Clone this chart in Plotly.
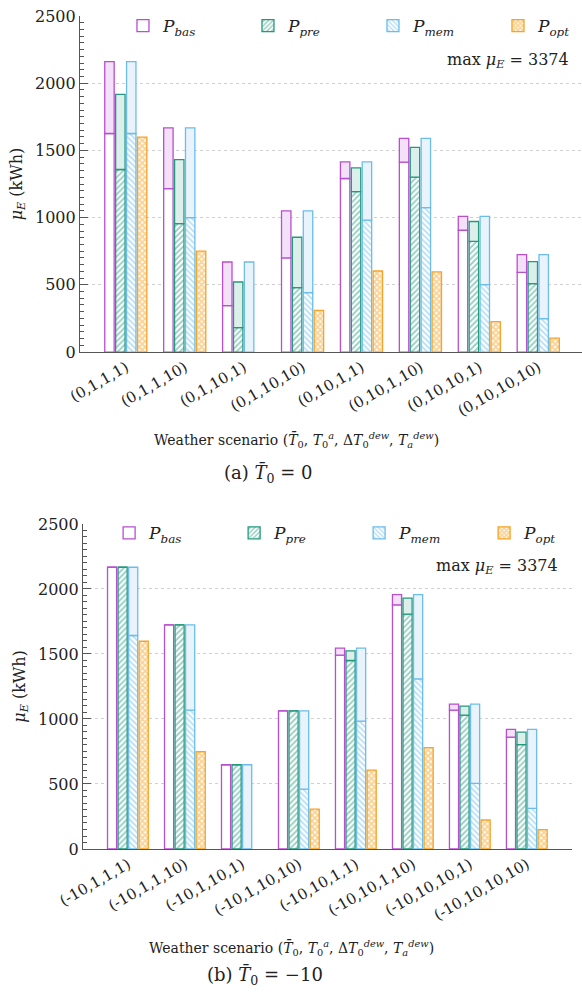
import plotly.graph_objects as go

# Weather scenarios (T0_bar, T0^a, dT0^dew, Ta^dew)
categories_a = ["(0,1,1,1)", "(0,1,1,10)", "(0,1,10,1)", "(0,1,10,10)",
                "(0,10,1,1)", "(0,10,1,10)", "(0,10,10,1)", "(0,10,10,10)"]
categories_b = ["(-10,1,1,1)", "(-10,1,1,10)", "(-10,1,10,1)", "(-10,1,10,10)",
                "(-10,10,1,1)", "(-10,10,1,10)", "(-10,10,10,1)", "(-10,10,10,10)"]

# Panel (a): expected energy mu_E (kWh); lo = lower bound, hi = upper bound
bas_lo_a = [1626, 1216, 345, 700, 1291, 1413, 906, 593]
bas_hi_a = [2160, 1668, 670, 1050, 1415, 1589, 1010, 725]
pre_lo_a = [1358, 956, 181, 479, 1194, 1301, 824, 509]
pre_hi_a = [1917, 1432, 521, 854, 1370, 1522, 971, 673]
mem_lo_a = [1626, 1000, 0, 442, 981, 1075, 501, 248]
mem_hi_a = [2160, 1668, 670, 1050, 1415, 1589, 1010, 725]
opt_a = [1599, 750, 0, 310, 603, 596, 226, 104]

# Panel (b)
bas_lo_b = [2167, 1724, 648, 1063, 1491, 1878, 1068, 861]
bas_hi_b = [2167, 1724, 648, 1063, 1545, 1957, 1114, 920]
pre_lo_b = [2167, 1724, 648, 1063, 1450, 1806, 1030, 802]
pre_hi_b = [2167, 1724, 648, 1063, 1524, 1929, 1099, 899]
mem_lo_b = [1642, 1068, 0, 461, 984, 1309, 505, 313]
mem_hi_b = [2167, 1724, 648, 1063, 1545, 1957, 1114, 920]
opt_b = [1598, 748, 0, 307, 607, 779, 223, 149]

max_mu = 3374

FONT = "DejaVu Serif"
BAR_W = 0.16
STEP = 0.185
OFF0 = -0.36
SERIES = ["bas", "pre", "mem", "opt"]

styles = {
    "bas": dict(color="#b84fcf", light="#f4e0f8", pattern=None),
    "pre": dict(color="#25997c", light="#dcefea",
                pattern=dict(shape="/", fgcolor="#25997c", size=4, solidity=0.45)),
    "mem": dict(color="#6cbdec", light="#e9f3fc",
                pattern=dict(shape="\\", fgcolor="#6cbdec", size=4, solidity=0.45)),
    "opt": dict(color="#f6a428", light=None,
                pattern=dict(shape="x", fgcolor="#f6a428", size=4, solidity=0.7)),
}
labels = {
    "bas": "<i>P</i><sub><i>bas</i></sub>",
    "pre": "<i>P</i><sub><i>pre</i></sub>",
    "mem": "<i>P</i><sub><i>mem</i></sub>",
    "opt": "<i>P</i><sub><i>opt</i></sub>",
}

fig = go.Figure()


def add_panel(cats, data, xa, ya, legend_ids):
    for i, key in enumerate(SERIES):
        st = styles[key]
        lo, hi = data[key]
        # no outline on empty bars so nothing shows at zero
        lw = [1.3 if v > 0 else 0 for v in lo] if hi is None else 1.3
        marker = dict(color="white", line=dict(color=st["color"], width=lw))
        if st["pattern"] is not None:
            marker["pattern"] = dict(st["pattern"], fillmode="overlay")
        fig.add_trace(go.Bar(
            x=cats, y=lo, offset=OFF0 + i * STEP, width=BAR_W,
            marker=marker, name=labels[key], xaxis=xa, yaxis=ya,
            legend=legend_ids[i], showlegend=True, hoverinfo="skip"))
        if hi is not None:
            fig.add_trace(go.Bar(
                x=cats, y=[h - l for h, l in zip(hi, lo)], base=lo,
                offset=OFF0 + i * STEP, width=BAR_W,
                marker=dict(color=st["light"], line=dict(color=st["color"], width=1.3)),
                xaxis=xa, yaxis=ya, showlegend=False, hoverinfo="skip"))


legends_a = ["legend", "legend2", "legend3", "legend4"]
legends_b = ["legend5", "legend6", "legend7", "legend8"]

add_panel(categories_a, {"bas": (bas_lo_a, bas_hi_a), "pre": (pre_lo_a, pre_hi_a),
                         "mem": (mem_lo_a, mem_hi_a), "opt": (opt_a, None)},
          "x", "y", legends_a)
add_panel(categories_b, {"bas": (bas_lo_b, bas_hi_b), "pre": (pre_lo_b, pre_hi_b),
                         "mem": (mem_lo_b, mem_hi_b), "opt": (opt_b, None)},
          "x2", "y2", legends_b)

yaxis_common = dict(
    range=[0, 2500], dtick=500, showline=True, linecolor="#555", linewidth=1.2,
    ticks="inside", ticklen=8, tickcolor="#555", tickwidth=1,
    minor=dict(dtick=50, ticks="inside", ticklen=4, tickcolor="#555", showgrid=False),
    showgrid=True, gridcolor="#d0d0d0", griddash="dot", gridwidth=1,
    zeroline=False, tickfont=dict(family=FONT, size=16, color="#222"),
    title=dict(text="<i>μ</i><sub><i>E</i></sub> (kWh)",
               font=dict(family=FONT, size=16, color="#222"), standoff=8),
)
xaxis_common = dict(
    type="category", showline=True, linecolor="#555", linewidth=1.2,
    ticks="", showgrid=False, zeroline=False, tickangle=-30,
    tickfont=dict(family=FONT, size=15, color="#222"),
)

layout = dict(
    width=582, height=992, barmode="overlay",
    margin=dict(l=80, r=0, t=16, b=143),
    paper_bgcolor="white", plot_bgcolor="white",
    font=dict(family=FONT, color="#222"),
    xaxis=dict(xaxis_common, domain=[0, 1], range=[-0.78, 7.74], anchor="y"),
    yaxis=dict(yaxis_common, domain=[0.5966, 1.0], anchor="x"),
    xaxis2=dict(xaxis_common, domain=[0.006, 0.98], range=[-0.79, 7.79], anchor="y2"),
    yaxis2=dict(yaxis_common, domain=[0.0, 0.3902], anchor="x2"),
)

# one legend box per entry so the four entries sit on a single row
legend_x_a = [0.0856, 0.3346, 0.5836, 0.8326]
legend_x_b = [0.058, 0.307, 0.556, 0.805]
for ids, xs, yc in ((legends_a, legend_x_a, 0.988), (legends_b, legend_x_b, 0.379)):
    for lid, lx in zip(ids, xs):
        layout[lid] = dict(orientation="h", x=lx, y=yc, xanchor="left", yanchor="middle",
                           bgcolor="rgba(0,0,0,0)", borderwidth=0,
                           font=dict(family=FONT, size=17, color="#222"))
fig.update_layout(**layout)

xtitle = ("Weather scenario (<i>T̄</i><sub>0</sub>, <i>T</i><sub>0</sub><sup><i>a</i></sup>, "
          "Δ<i>T</i><sub>0</sub><sup><i>dew</i></sup>, <i>T</i><sub><i>a</i></sub><sup><i>dew</i></sup>)")
max_text = f"max <i>μ</i><sub><i>E</i></sub> = {max_mu}"

annotations = [
    dict(text=max_text, xref="x domain", yref="y domain", x=0.978, y=0.869,
         xanchor="right", yanchor="middle", showarrow=False, font=dict(size=16)),
    dict(text=max_text, xref="x2 domain", yref="y2 domain", x=0.975, y=0.868,
         xanchor="right", yanchor="middle", showarrow=False, font=dict(size=16)),
    dict(text=xtitle, xref="paper", yref="paper", x=0.432, y=0.491,
         xanchor="center", yanchor="middle", showarrow=False, font=dict(size=14)),
    dict(text="(a) <i>T̄</i><sub>0</sub> = 0", xref="paper", yref="paper", x=0.376, y=0.451,
         xanchor="center", yanchor="middle", showarrow=False, font=dict(size=18)),
    dict(text=xtitle, xref="paper", yref="paper", x=0.422, y=-0.119,
         xanchor="center", yanchor="middle", showarrow=False, font=dict(size=14)),
    dict(text="(b) <i>T̄</i><sub>0</sub> = −10", xref="paper", yref="paper", x=0.369, y=-0.152,
         xanchor="center", yanchor="middle", showarrow=False, font=dict(size=18)),
]
fig.update_layout(annotations=annotations)

fig.write_html("out.html")
